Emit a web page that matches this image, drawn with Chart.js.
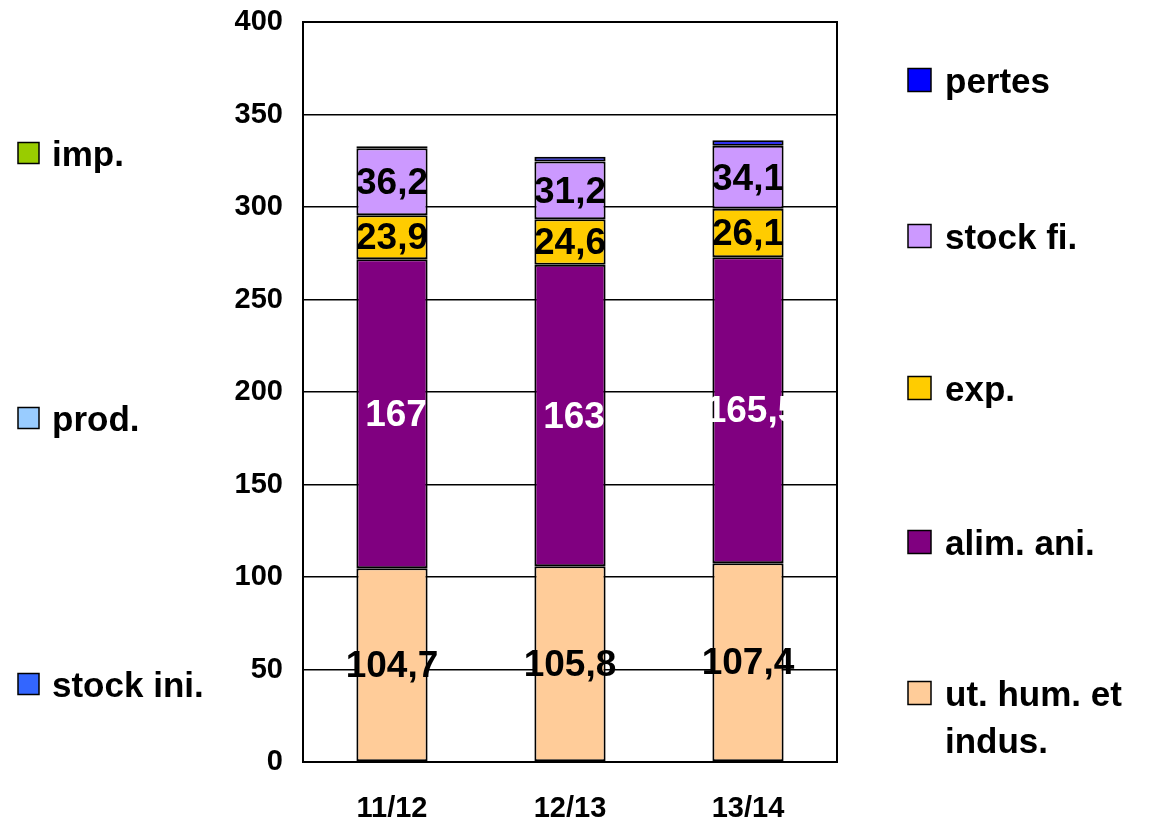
<!DOCTYPE html>
<html>
<head>
<meta charset="utf-8">
<script src="https://cdn.jsdelivr.net/npm/chart.js@4/dist/chart.umd.min.js"></script>
<style>
  html, body { margin: 0; padding: 0; background: #fff; }
  canvas { display: block; }
</style>
</head>
<body>
<canvas id="chart" width="1166" height="823"></canvas>
<script>
// ─── Données ───
const campagnes = ['11/12', '12/13', '13/14'];
const utHumIndus = [104.7, 105.8, 107.4];
const alimAni = [167, 163, 165.5];
const exportations = [23.9, 24.6, 26.1];
const stockFi = [36.2, 31.2, 34.1];
const pertes = [1, 2.5, 3];
// ressources (légende seulement, pas de barres visibles)
const imp = [0, 0, 0];
const prod = [0, 0, 0];
const stockIni = [0, 0, 0];
const yTicks = [0, 50, 100, 150, 200, 250, 300, 350, 400];

const FONT = '"Liberation Sans", Arial, sans-serif';

function fmt(v) {
    return String(v).replace('.', ',');
}

// ─── Datasets ───
const datasets = [
    { label: 'ut. hum. et\nindus.', data: utHumIndus, backgroundColor: '#FFCC99', side: 'right', slot: 4, labelColor: '#000' },
    { label: 'alim. ani.', data: alimAni, backgroundColor: '#800080', side: 'right', slot: 3, labelColor: '#fff' },
    { label: 'exp.', data: exportations, backgroundColor: '#FFCC00', side: 'right', slot: 2, labelColor: '#000' },
    { label: 'stock fi.', data: stockFi, backgroundColor: '#CC99FF', side: 'right', slot: 1, labelColor: '#000' },
    { label: 'pertes', data: pertes, backgroundColor: '#0000FF', side: 'right', slot: 0 },
    { label: 'stock ini.', data: stockIni, backgroundColor: '#3366FF', side: 'left', slot: 2, borderWidth: 0 },
    { label: 'prod.', data: prod, backgroundColor: '#99CCFF', side: 'left', slot: 1, borderWidth: 0 },
    { label: 'imp.', data: imp, backgroundColor: '#99CC00', side: 'left', slot: 0, borderWidth: 0 },
].map(d => Object.assign({ borderColor: '#000', borderWidth: 2, borderSkipped: false }, d));

// ─── Étiquettes de valeurs ───
const valueLabels = {
    id: 'valueLabels',
    afterDatasetsDraw(chart) {
        const ctx = chart.ctx;
        ctx.save();
        ctx.font = 'bold 37px ' + FONT;
        ctx.textAlign = 'center';
        ctx.textBaseline = 'middle';
        chart.data.datasets.forEach((ds, i) => {
            if (!ds.labelColor) return;
            const meta = chart.getDatasetMeta(i);
            meta.data.forEach((el, j) => {
                const cy = (el.y + el.base) / 2;
                const dx = ds.labelColor === '#fff' ? 4 : 0;
                ctx.fillStyle = ds.labelColor;
                ctx.fillText(fmt(ds.data[j]), el.x + dx, cy + 2);
            });
        });
        ctx.restore();
    }
};

// ─── Cadre + légendes ───
const frameAndLegend = {
    id: 'frameAndLegend',
    afterDraw(chart) {
        const ctx = chart.ctx;
        const a = chart.chartArea;
        ctx.save();
        ctx.strokeStyle = '#000';
        ctx.lineWidth = 2;
        ctx.strokeRect(a.left, a.top, a.right - a.left, a.bottom - a.top);

        ctx.font = 'bold 35px ' + FONT;
        ctx.textBaseline = 'middle';
        ctx.textAlign = 'left';
        const leftY = [153, 418, 684];
        const rightY = [80, 236, 388, 542, 693];
        chart.data.datasets.forEach(ds => {
            let bx, size, tx, y;
            if (ds.side === 'left') {
                bx = 18; size = 21; tx = 52; y = leftY[ds.slot];
            } else {
                bx = 908; size = 23; tx = 945; y = rightY[ds.slot];
            }
            ctx.fillStyle = ds.backgroundColor;
            ctx.fillRect(bx, y - size / 2, size, size);
            ctx.lineWidth = 1.5;
            ctx.strokeStyle = '#000';
            ctx.strokeRect(bx, y - size / 2, size, size);
            ctx.fillStyle = '#000';
            ds.label.split('\n').forEach((line, k) => {
                ctx.fillText(line, tx, y + 3 + k * 47);
            });
        });
        ctx.restore();
    }
};

new Chart(document.getElementById('chart'), {
    type: 'bar',
    data: { labels: campagnes, datasets: datasets },
    options: {
        responsive: false,
        animation: false,
        layout: { padding: { top: 22, right: 329, left: 0, bottom: 0 } },
        datasets: { bar: { barPercentage: 0.4, categoryPercentage: 1 } },
        plugins: {
            legend: { display: false },
            tooltip: { enabled: false }
        },
        scales: {
            x: {
                stacked: true,
                grid: { display: false, drawTicks: false },
                border: { display: true, color: '#000', width: 2 },
                ticks: {
                    color: '#000',
                    padding: 30,
                    font: { family: FONT, size: 29, weight: 'bold' }
                },
                afterFit: s => { s.height = 61; }
            },
            y: {
                stacked: true,
                min: 0,
                max: 400,
                afterBuildTicks: s => { s.ticks = yTicks.map(v => ({ value: v })); },
                grid: { color: '#000', lineWidth: 1.5, drawTicks: false },
                border: { display: true, color: '#000', width: 2 },
                ticks: {
                    color: '#000',
                    padding: 20,
                    font: { family: FONT, size: 29, weight: 'bold' }
                },
                afterFit: s => { s.width = 303; s.paddingTop = 0; s.paddingBottom = 0; }
            }
        }
    },
    plugins: [valueLabels, frameAndLegend]
});
</script>
</body>
</html>
